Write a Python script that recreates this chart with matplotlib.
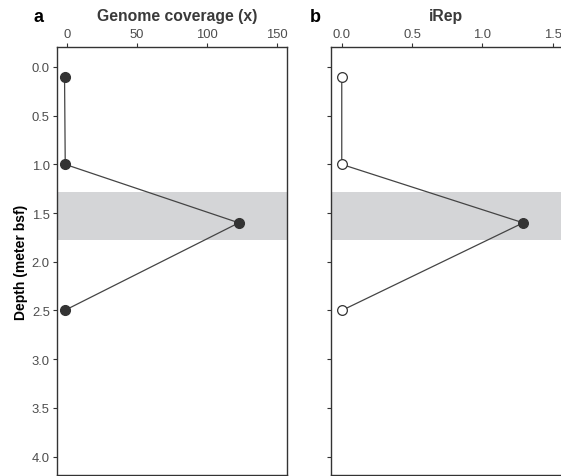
import matplotlib
matplotlib.use('Agg')
import matplotlib.pyplot as plt

plt.rcParams['font.family'] = ['Liberation Sans', 'DejaVu Sans']

# data
depth = [0.1, 1.0, 1.6, 2.5]
coverage = [-1.5, -1.0, 123.0, -1.5]
irep = [0.0, 0.0, 1.29, 0.0]
irep_filled = [False, False, True, False]
band = (1.28, 1.78)

cov_ticks = [0, 50, 100, 150]
irep_ticks = [0.0, 0.5, 1.0, 1.5]
depth_ticks = [0.0, 0.5, 1.0, 1.5, 2.0, 2.5, 3.0, 3.5, 4.0]

dark = '#333333'
tickcol = '#4d4d4d'
bandcol = '#d4d5d7'

W, H = 561, 477
fig = plt.figure(figsize=(W / 100, H / 100), dpi=100)

def px(l, t, r, b):
    return [l / W, 1 - b / H, (r - l) / W, (b - t) / H]

ax1 = fig.add_axes(px(56.7, 48.3, 287.0, 475.5))
ax2 = fig.add_axes(px(330.7, 48.3, 562.0, 475.5))

for ax in (ax1, ax2):
    ax.axhspan(band[0], band[1], color=bandcol, lw=0, zorder=0)
    ax.set_ylim(4.184, -0.202)
    ax.set_yticks(depth_ticks)
    ax.xaxis.tick_top()
    ax.tick_params(axis='both', direction='out', length=3, width=0.8,
                   color=dark, labelcolor=tickcol, labelsize=9.4, pad=2)
    for s in ax.spines.values():
        s.set_color(dark)
        s.set_linewidth(1.0)

# panel a
ax1.plot(coverage, depth, color='#444444', lw=0.9, zorder=2)
ax1.plot(coverage, depth, 'o', ms=7, mfc=dark, mec=dark, zorder=3)
ax1.set_xlim(-7.1, 157.4)
ax1.set_xticks(cov_ticks)
ax1.set_yticklabels(['%.1f' % d for d in depth_ticks])
ax1.set_ylabel('Depth (meter bsf)', fontsize=10, fontweight='bold', color='black', labelpad=3)

# panel b
ax2.plot(irep, depth, color='#444444', lw=0.9, zorder=2)
for x, y, f in zip(irep, depth, irep_filled):
    ax2.plot(x, y, 'o', ms=7, mfc=dark if f else 'white', mec=dark, mew=0.9, zorder=3)
ax2.set_xlim(-0.0786, 1.566)
ax2.set_xticks(irep_ticks)
ax2.set_xticklabels(['%.1f' % v for v in irep_ticks])
ax2.set_yticklabels([])

fig.text(177 / W, 1 - 16.5 / H, 'Genome coverage (x)', ha='center', va='center',
         fontsize=11.3, fontweight='bold', color='#3a3a3a')
fig.text(445.5 / W, 1 - 16.5 / H, 'iRep', ha='center', va='center',
         fontsize=11.3, fontweight='bold', color='#3a3a3a')
fig.text(39 / W, 1 - 17 / H, 'a', ha='center', va='center', fontsize=13, fontweight='bold')
fig.text(315 / W, 1 - 17 / H, 'b', ha='center', va='center', fontsize=13, fontweight='bold')

fig.savefig('out.png', dpi=100)
